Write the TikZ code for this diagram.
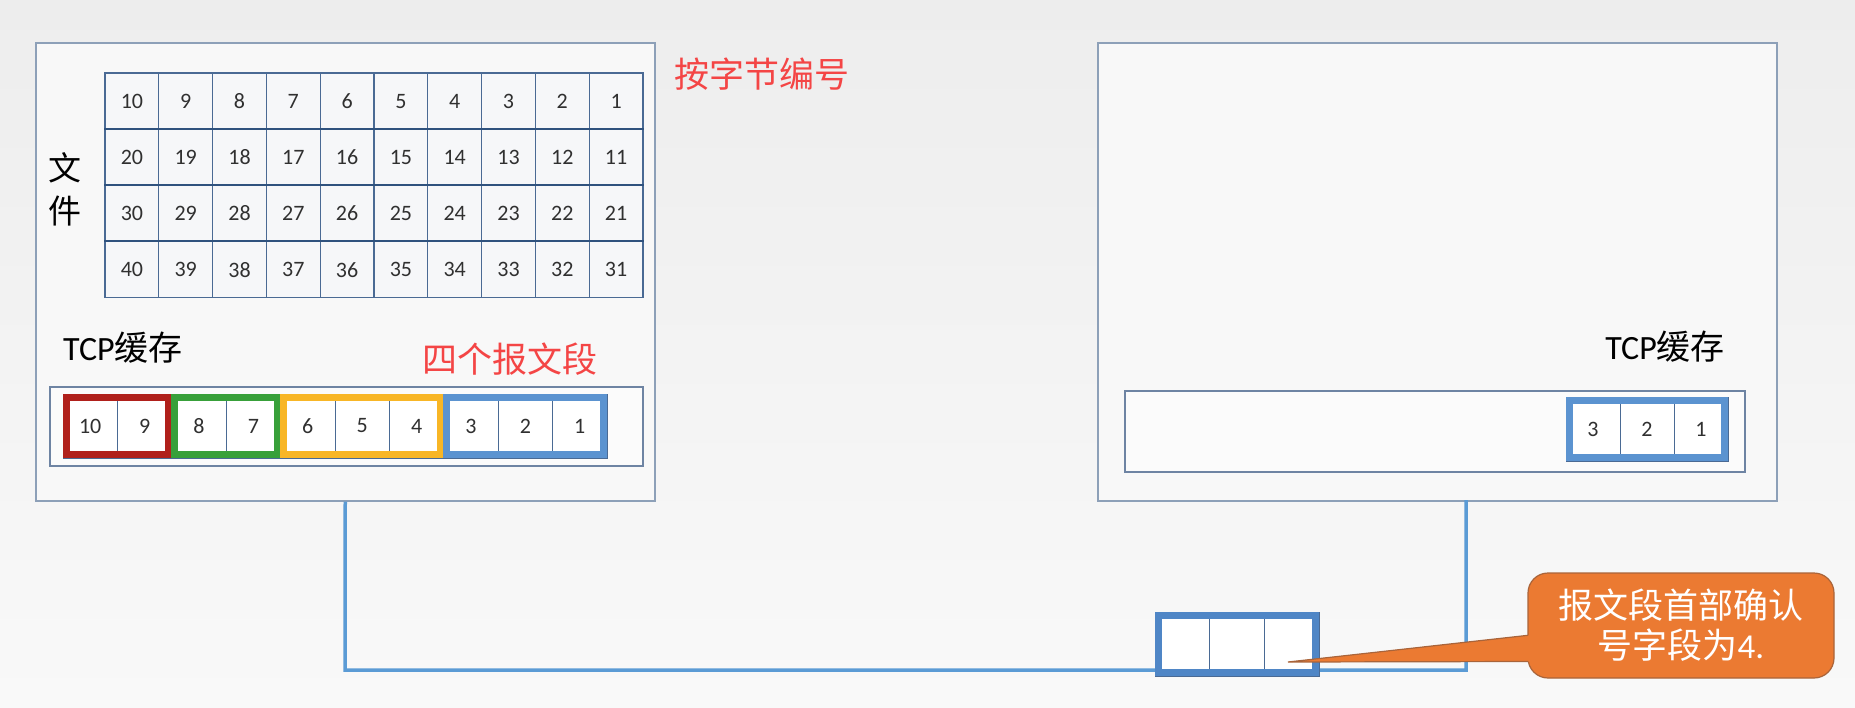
\documentclass[tikz,border=0pt]{standalone}
\usepackage{fontspec}
\setmainfont{Carlito}
\newfontfamily\cjk{Noto Sans CJK SC}
\usetikzlibrary{calc}
\definecolor{bgtop}{HTML}{EDEDED}
\definecolor{bgbot}{HTML}{F9F9F9}
\definecolor{hostline}{HTML}{8DA0B8}
\definecolor{hostfill}{HTML}{F8F8F8}
\definecolor{gridline}{HTML}{4A6A94}
\definecolor{rowline}{HTML}{2F527E}
\definecolor{cellfill}{HTML}{F6F7F9}
\definecolor{bufline}{HTML}{6E84A3}
\definecolor{buffill}{HTML}{FBFBFB}
\definecolor{numtext}{HTML}{303030}
\definecolor{segred}{HTML}{B0201B}
\definecolor{seggreen}{HTML}{38A03A}
\definecolor{segyellow}{HTML}{F8B626}
\definecolor{segblue}{HTML}{5B93D0}
\definecolor{pktblue}{HTML}{4F86C6}
\definecolor{wire}{HTML}{5B9BD5}
\definecolor{notefill}{HTML}{EB7A32}
\definecolor{noteline}{HTML}{A9643A}
\definecolor{redtext}{HTML}{F44545}
\begin{document}
\begin{tikzpicture}[x=1pt,y=-1pt,
  hostbox/.style={draw=hostline, line width=1.5pt, fill=hostfill, inner sep=0pt, anchor=north west},
  gridcell/.style={draw=gridline, line width=1.2pt, fill=cellfill, minimum width=53.8pt, minimum height=56.2pt, inner sep=0pt, font=\fontsize{22}{22}\selectfont, text=numtext},
  rowsep/.style={draw=rowline, line width=2pt},
  bufbox/.style={draw=bufline, line width=1.5pt, fill=buffill, anchor=north west, inner sep=0pt},
  bufcell/.style={draw=gridline, line width=0.9pt, fill=white, minimum width=54.4pt, minimum height=64pt, inner sep=0pt, font=\fontsize{22}{22}\selectfont, text=numtext},
  segframe/.style={line width=7pt},
  wireline/.style={draw=wire, line width=3.5pt},
  label/.style={inner sep=0pt, text=black},
  redlabel/.style={inner sep=0pt, text=redtext, font=\cjk\fontsize{35}{35}\selectfont},
  notebox/.style={fill=notefill, draw=noteline, line width=1.2pt, rounded corners=20pt, minimum width=306pt, minimum height=105pt, inner sep=0pt, text=white, align=center, font=\cjk\fontsize{35}{40}\selectfont}
]
\useasboundingbox (0,0) rectangle (1855,707);
\shade[top color=bgtop, bottom color=bgbot] (0,0) rectangle (1855,707);

% hosts
\node[hostbox, minimum width=619pt, minimum height=458pt] (hostA) at (35,42) {};
\node[hostbox, minimum width=679pt, minimum height=458pt] (hostB) at (1097,42) {};

% file grid
\foreach \r in {0,...,3} {
  \foreach \c in {0,...,9} {
    \pgfmathtruncatemacro{\num}{10*\r+10-\c}
    \node[gridcell] (g-\r-\c) at (105+53.8*\c+26.9, 73+56.2*\r+28.1) {\num};
  }
}
\foreach \r in {1,2,3} {
  \draw[rowsep] (g-\r-0.north west) -- (g-\r-9.north east);
}
\node[label, font=\cjk\fontsize{33}{43}\selectfont, align=center] (file) at (65,189) {文\\件};
\node[redlabel] (bynum) at (762,74) {按字节编号};

% left TCP buffer
\node[label, anchor=west, font=\fontsize{34}{34}\selectfont] (tcpA) at (63,348) {TCP{\cjk 缓存}};
\node[redlabel] (four) at (510,359) {四个报文段};
\node[bufbox, minimum width=593pt, minimum height=79pt] (bufA) at (49,386) {};
\foreach \k in {1,...,10} {
  \pgfmathtruncatemacro{\num}{11-\k}
  \node[bufcell] (b-\k) at (63+54.4*\k-27.2, 426) {\num};
}
\draw[segframe, segred] ($(b-1.north west)+(3.5,3.5)$) rectangle ($(b-2.south east)+(-3.5,-3.5)$);
\draw[segframe, seggreen] ($(b-3.north west)+(3.5,3.5)$) rectangle ($(b-4.south east)+(-3.5,-3.5)$);
\draw[segframe, segyellow] ($(b-5.north west)+(3.5,3.5)$) rectangle ($(b-7.south east)+(-3.5,-3.5)$);
\draw[segframe, segblue] ($(b-8.north west)+(3.5,3.5)$) rectangle ($(b-10.south east)+(-3.5,-3.5)$);

% right TCP buffer
\node[label, anchor=east, font=\fontsize{34}{34}\selectfont] (tcpB) at (1725,347) {TCP{\cjk 缓存}};
\node[bufbox, minimum width=620pt, minimum height=81pt] (bufB) at (1124,390) {};
\foreach \k in {1,...,3} {
  \pgfmathtruncatemacro{\num}{4-\k}
  \node[bufcell, minimum width=54pt] (r-\k) at (1566+54*\k-27, 429) {\num};
}
\draw[segframe, segblue] ($(r-1.north west)+(3.5,3.5)$) rectangle ($(r-3.south east)+(-3.5,-3.5)$);

% wire
\coordinate (wa) at (hostA.south);
\coordinate (wb) at (1466,500);
\draw[wireline] (wa) -- (345,670) -- (1466,670) -- (wb);

% packet
\foreach \k in {1,...,3} {
  \node[bufcell, minimum width=54.67pt] (p-\k) at (1155+54.67*\k-27.33, 644) {};
}
\draw[segframe, pktblue] ($(p-1.north west)+(3.5,3.5)$) rectangle ($(p-3.south east)+(-3.5,-3.5)$);

% callout
\node[notebox] (note) at (1681,625.5) {报文段首部确认\\号字段为{\rmfamily 4.}};
\coordinate (tip) at (1288,662);
\coordinate (ua) at (1540,634);
\coordinate (la) at (1540,661.5);
\coordinate (ue) at (1528,635.3);
\coordinate (le) at (1528,661.5);
\fill[notefill] (ua) -- (tip) -- (la) -- cycle;
\draw[noteline, line width=1.2pt] (ue) -- (tip) -- (le);
\end{tikzpicture}
\end{document}
